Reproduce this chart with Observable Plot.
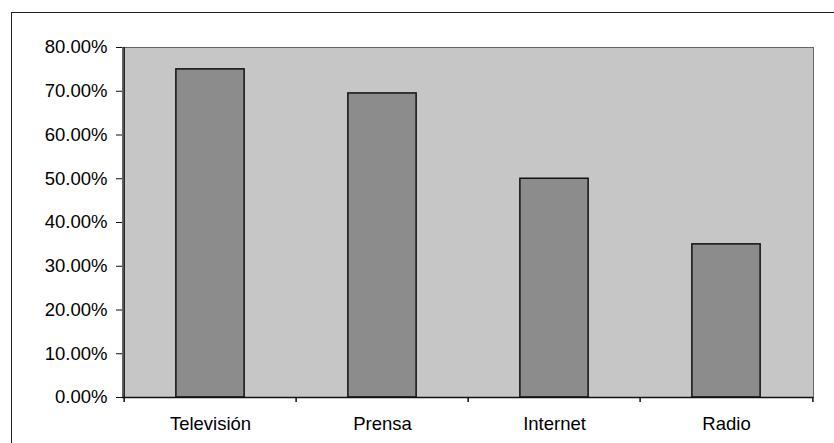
<!DOCTYPE html>
<html>
<head>
<meta charset="utf-8">
<script src="https://cdn.jsdelivr.net/npm/d3@7"></script>
<script src="https://cdn.jsdelivr.net/npm/@observablehq/plot@0.6"></script>
<style>
  html, body { margin: 0; padding: 0; background: #fff; }
  #wrap { position: relative; width: 834px; height: 443px; overflow: hidden; }
  #frame { position: absolute; left: 11px; top: 12px; right: 0; bottom: 0;
           border-top: 1.5px solid #222; border-left: 1.5px solid #222; pointer-events: none; }
</style>
</head>
<body>
<div id="wrap"><div id="frame"></div></div>
<script>
const categories = ["Televisión", "Prensa", "Internet", "Radio"];
const values = [0.75, 0.695, 0.50, 0.35];
const yTicks = [0, 0.1, 0.2, 0.3, 0.4, 0.5, 0.6, 0.7, 0.8];

const data = categories.map((c, i) => ({ medio: c, valor: values[i] }));

const W = 834, H = 443;
const mL = 122, mR = 21, mT = 47, mB = 46;
const step = (W - mL - mR) / categories.length;
const halfStep = step / 2;
const barInset = (step - 69) / 2;

const chart = Plot.plot({
  width: W,
  height: H,
  marginLeft: mL,
  marginRight: mR,
  marginTop: mT,
  marginBottom: mB,
  style: { fontFamily: "'Liberation Sans', Arial, sans-serif", fontSize: "18.5px", color: "#000", background: "transparent", overflow: "visible" },
  x: { domain: categories, padding: 0, label: null },
  y: { domain: [0, 0.8], label: null },
  marks: [
    Plot.frame({ fill: "#c6c6c6", stroke: "#666", strokeWidth: 1 }),
    Plot.barY(data, { x: "medio", y: "valor", insetLeft: barInset, insetRight: barInset, fill: "#8c8c8c", stroke: "#111", strokeWidth: 1.5 }),
    Plot.axisY({ ticks: yTicks, tickFormat: d3.format(".2%"), tickSize: 6, tickPadding: 9, stroke: "#111", label: null, fontSize: 18.5 }),
    Plot.ruleY([0], { stroke: "#111", strokeWidth: 1.5 }),
    Plot.axisX({ tickSize: 0, tickPadding: 19, label: null, fontSize: 18.5 }),
    Plot.ruleX(categories, { x: d => d, y1: 0, y2: 0, insetBottom: -5, dx: -halfStep, stroke: "#111", strokeWidth: 1.5 }),
    Plot.ruleX(categories.slice(-1), { x: d => d, y1: 0, y2: 0, insetBottom: -5, dx: halfStep, stroke: "#111", strokeWidth: 1.5 }),
    Plot.ruleX(categories.slice(0, 1), { x: d => d, y1: 0, y2: 0.8, dx: -halfStep, stroke: "#111", strokeWidth: 1.5 })
  ]
});
document.getElementById("wrap").prepend(chart);
chart.style.position = "absolute";
chart.style.left = "0";
chart.style.top = "0";
</script>
</body>
</html>
